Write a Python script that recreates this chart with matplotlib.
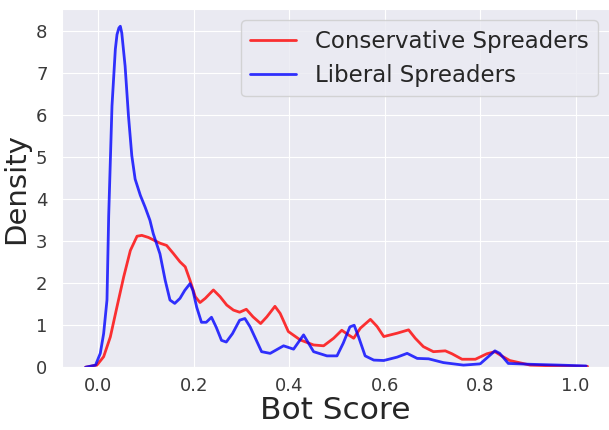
import matplotlib
matplotlib.use("Agg")
import matplotlib.pyplot as plt
import seaborn as sns

# KDE curves (bot score, density)
cons_x = [-0.027, -0.003, 0.011, 0.025, 0.039, 0.053, 0.067, 0.081, 0.091, 0.105,
          0.119, 0.13, 0.143, 0.157, 0.171, 0.182, 0.192, 0.203, 0.213, 0.224,
          0.241, 0.255, 0.269, 0.283, 0.296, 0.31, 0.324, 0.34, 0.353, 0.37,
          0.381, 0.398, 0.423, 0.451, 0.472, 0.493, 0.51, 0.524, 0.535, 0.549,
          0.57, 0.584, 0.598, 0.626, 0.65, 0.664, 0.681, 0.702, 0.727, 0.741,
          0.762, 0.79, 0.814, 0.831, 0.845, 0.862, 0.905, 0.96, 1.025]
cons_y = [0.0, 0.05, 0.25, 0.72, 1.44, 2.15, 2.78, 3.12, 3.14, 3.09,
          3.01, 2.95, 2.9, 2.71, 2.51, 2.39, 2.07, 1.68, 1.54, 1.64,
          1.84, 1.68, 1.48, 1.36, 1.31, 1.38, 1.2, 1.04, 1.2, 1.45,
          1.28, 0.85, 0.65, 0.53, 0.51, 0.69, 0.88, 0.77, 0.69, 0.93,
          1.14, 0.97, 0.73, 0.81, 0.89, 0.69, 0.49, 0.37, 0.39, 0.32,
          0.19, 0.19, 0.32, 0.37, 0.27, 0.16, 0.05, 0.03, 0.02]

lib_x = [-0.027, -0.006, 0.004, 0.011, 0.018, 0.0216, 0.0285, 0.0355, 0.039, 0.043,
         0.046, 0.049, 0.056, 0.063, 0.07, 0.077, 0.088, 0.098, 0.108, 0.115,
         0.129, 0.14, 0.15, 0.16, 0.171, 0.181, 0.192, 0.198, 0.206, 0.216,
         0.226, 0.237, 0.247, 0.258, 0.268, 0.281, 0.296, 0.307, 0.318, 0.342,
         0.36, 0.388, 0.409, 0.43, 0.451, 0.479, 0.5, 0.513, 0.527, 0.536,
         0.545, 0.559, 0.577, 0.598, 0.626, 0.647, 0.668, 0.692, 0.723, 0.765,
         0.8, 0.817, 0.831, 0.841, 0.859, 0.905, 0.967, 1.022]
lib_y = [0.0, 0.05, 0.33, 0.8, 1.6, 3.61, 6.22, 7.57, 7.92, 8.08,
         8.12, 7.96, 7.17, 5.99, 5.04, 4.48, 4.09, 3.81, 3.5, 3.18,
         2.7, 2.07, 1.6, 1.52, 1.64, 1.83, 1.99, 1.83, 1.43, 1.07,
         1.07, 1.19, 0.95, 0.64, 0.6, 0.8, 1.12, 1.16, 0.96, 0.37,
         0.33, 0.51, 0.43, 0.77, 0.37, 0.27, 0.27, 0.57, 0.96, 1.0,
         0.73, 0.27, 0.17, 0.16, 0.24, 0.33, 0.21, 0.2, 0.11, 0.05,
         0.08, 0.25, 0.39, 0.33, 0.09, 0.07, 0.05, 0.03]

sns.set_style("darkgrid")

fig = plt.figure(figsize=(6.09, 4.3), dpi=100)
ax = fig.add_axes([0.102, 0.146, 0.898, 0.833])

ax.plot(cons_x, cons_y, color="red", alpha=0.8, lw=2, label="Conservative Spreaders")
ax.plot(lib_x, lib_y, color="blue", alpha=0.8, lw=2, label="Liberal Spreaders")

ax.set_xlim(-0.076, 1.07)
ax.set_ylim(0, 8.53)
ax.set_xticks([0.0, 0.2, 0.4, 0.6, 0.8, 1.0])
ax.set_yticks(range(0, 9))
ax.tick_params(labelsize=13, labelcolor="#3a3a3a")
ax.tick_params(axis="y", pad=7)
ax.set_xlabel("Bot Score", fontsize=22.5, color="#262626", labelpad=1)
ax.set_ylabel("Density", fontsize=21, color="#262626", labelpad=4)
ax.legend(loc="upper right", fontsize=16.5)

fig.savefig("out.png", dpi=100)
